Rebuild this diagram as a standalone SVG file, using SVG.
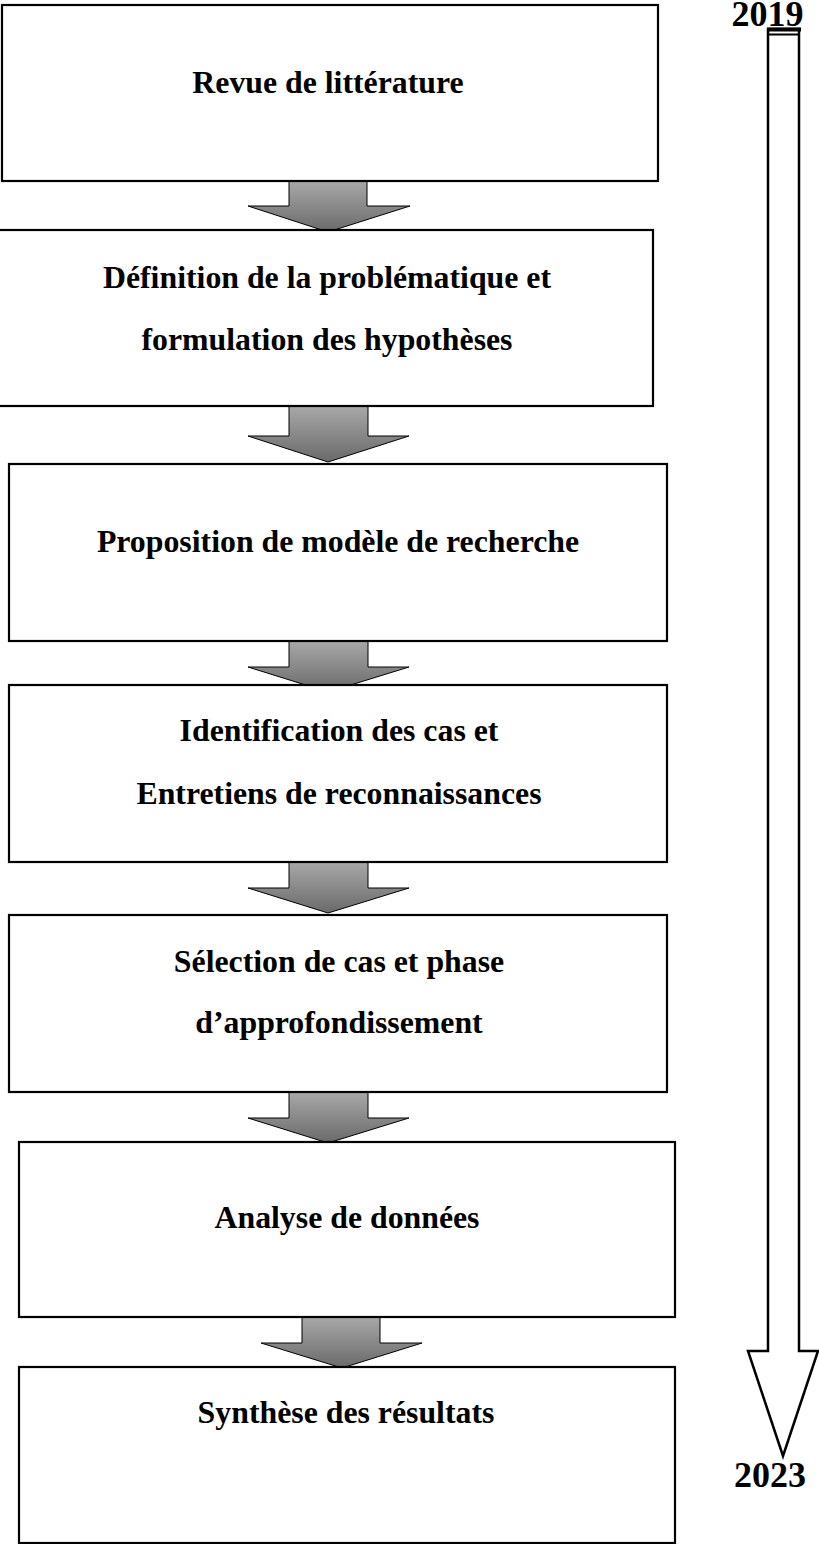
<svg xmlns="http://www.w3.org/2000/svg" width="819" height="1544" viewBox="0 0 819 1544">
<style>
.box{fill:#fff;stroke:#000;stroke-width:2.2}
.t{font-family:"Liberation Serif","Times New Roman",serif;font-weight:bold;font-size:31.8px;fill:#000;text-anchor:middle}
.yr{font-family:"Liberation Serif","Times New Roman",serif;font-weight:bold;font-size:36px;fill:#000;text-anchor:middle}
.arr{fill:url(#g);stroke:#000;stroke-width:1}
</style>
<defs>
<linearGradient id="g" x1="0" y1="0" x2="0" y2="1">
<stop offset="0" stop-color="#a8a8a8"/>
<stop offset="1" stop-color="#6a6a6a"/>
</linearGradient>
</defs>
<rect width="819" height="1544" fill="#fff"/>
<g id="connectors">
<polygon class="arr" points="289,181 367,181 367,206 410,206 328,232 248,206 289,206"/>
<polygon class="arr" points="289,406 368,406 368,436 409,436 328,462 248,436 289,436"/>
<polygon class="arr" points="289,641 368,641 368,667 409,667 328,692 248,667 289,667"/>
<polygon class="arr" points="289,862 368,862 368,888 409,888 328,913 248,888 289,888"/>
<polygon class="arr" points="289,1092 368,1092 368,1118 409,1118 328,1143 248,1118 289,1118"/>
<polygon class="arr" points="302,1317 380,1317 380,1343 422,1343 342,1368 261,1343 302,1343"/>
</g>
<g id="n1"><rect class="box" x="2" y="5" width="656" height="176"/><text class="t" x="328" y="93">Revue de littérature</text></g>
<g id="n2"><rect class="box" x="-5" y="230" width="658" height="176"/><text class="t" x="327" y="288">Définition de la problématique et</text><text class="t" x="327" y="350">formulation des hypothèses</text></g>
<g id="n3"><rect class="box" x="9" y="464" width="658" height="177"/><text class="t" x="338" y="552">Proposition de modèle de recherche</text></g>
<g id="n4"><rect class="box" x="9" y="685" width="658" height="177"/><text class="t" x="339" y="741">Identification des cas et</text><text class="t" x="339" y="804">Entretiens de reconnaissances</text></g>
<g id="n5"><rect class="box" x="9" y="915" width="658" height="177"/><text class="t" x="339" y="972">Sélection de cas et phase</text><text class="t" x="339" y="1033">d’approfondissement</text></g>
<g id="n6"><rect class="box" x="19" y="1142" width="656" height="175"/><text class="t" x="347" y="1228">Analyse de données</text></g>
<g id="n7"><rect class="box" x="19" y="1367" width="656" height="176"/><text class="t" x="346" y="1423">Synthèse des résultats</text></g>
<g id="timeline">
<polygon points="768,29 768,1351 748,1351 783,1456 818,1351 799,1351 799,29" fill="#fff" stroke="#000" stroke-width="2.5"/>
<rect x="767" y="27.5" width="34" height="4" fill="#000"/>
<line x1="767" y1="34.5" x2="800" y2="34.5" stroke="#000" stroke-width="2"/>
<text class="yr" x="767.5" y="25.5">2019</text>
<text class="yr" x="770" y="1487">2023</text>
</g>
</svg>
